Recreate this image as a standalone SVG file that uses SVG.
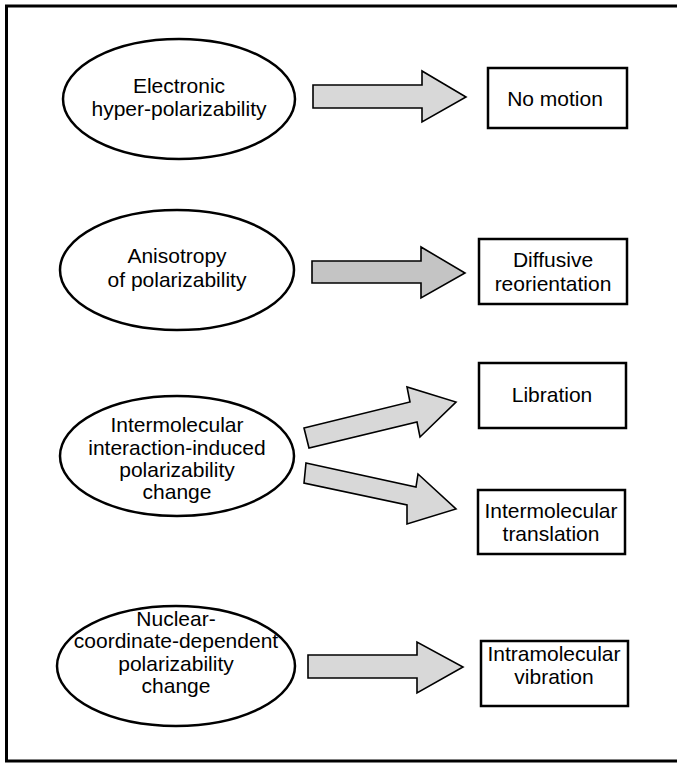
<svg xmlns="http://www.w3.org/2000/svg" width="677" height="764" viewBox="0 0 677 764">
<style>
.frame{fill:#fff;stroke:#000;stroke-width:3}
.ell{fill:#fff;stroke:#000;stroke-width:2.5}
.box{fill:#fff;stroke:#000;stroke-width:2.5}
.arr{fill:#d8d8d8;stroke:#000;stroke-width:1.6;stroke-linejoin:miter}
.arr2{fill:#c4c4c4}
text{font-family:"Liberation Sans",Arial,sans-serif;font-size:21px;fill:#000;text-anchor:middle}
</style>
<rect class="frame" x="6.5" y="6" width="690" height="755"/>
<g id="connectors">
<polygon class="arr" points="313,85 422,85 422,71 466,97 422,122 422,108 313,108"/>
<polygon class="arr arr2" points="312,261 421,261 421,247 465,273 421,298 421,283 312,283"/>
<polygon class="arr" points="304,428 410,402 407,387 456,402 420,437 417,422 309,448"/>
<polygon class="arr" points="306,463 416,487 418,474 456,509 407,524 407,505 304,483"/>
<polygon class="arr" points="308,655 417,655 417,642 463,667 417,693 417,678 308,678"/>
</g>
<g id="n1">
<ellipse class="ell" cx="179" cy="99" rx="116" ry="60"/>
<text x="179" y="93">Electronic</text>
<text x="179" y="116">hyper-polarizability</text>
</g>
<g id="n2">
<ellipse class="ell" cx="177" cy="270" rx="117" ry="60"/>
<text x="177" y="263">Anisotropy</text>
<text x="177" y="287">of polarizability</text>
</g>
<g id="n3">
<ellipse class="ell" cx="177" cy="456" rx="117" ry="60"/>
<text x="177" y="432">Intermolecular</text>
<text x="177" y="455">interaction-induced</text>
<text x="177" y="477">polarizability</text>
<text x="177" y="499">change</text>
</g>
<g id="n4">
<ellipse class="ell" cx="176" cy="666" rx="119" ry="60"/>
<text x="176" y="626">Nuclear-</text>
<text x="176" y="648">coordinate-dependent</text>
<text x="176" y="671">polarizability</text>
<text x="176" y="693">change</text>
</g>
<g id="b1">
<rect class="box" x="488" y="68" width="139" height="60"/>
<text x="555" y="106">No motion</text>
</g>
<g id="b2">
<rect class="box" x="479" y="239" width="148" height="65"/>
<text x="553" y="267">Diffusive</text>
<text x="553" y="291">reorientation</text>
</g>
<g id="b3">
<rect class="box" x="479" y="363" width="147" height="65"/>
<text x="552" y="402">Libration</text>
</g>
<g id="b4">
<rect class="box" x="478" y="490" width="147" height="64"/>
<text x="551" y="518">Intermolecular</text>
<text x="551" y="541">translation</text>
</g>
<g id="b5">
<rect class="box" x="481" y="641" width="147" height="65"/>
<text x="554" y="661">Intramolecular</text>
<text x="554" y="684">vibration</text>
</g>
</svg>
